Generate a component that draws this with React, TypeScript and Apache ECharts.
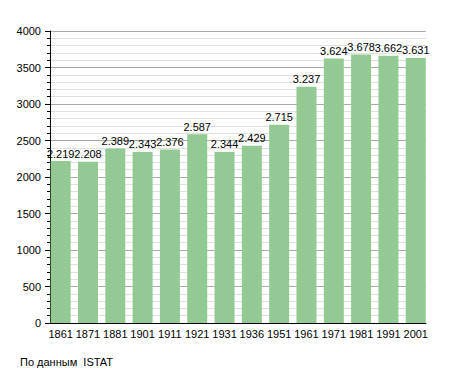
import React, { useEffect, useRef } from "react";
import * as echarts from "echarts";

const years = ["1861", "1871", "1881", "1901", "1911", "1921", "1931", "1936", "1951", "1961", "1971", "1981", "1991", "2001"];
const population = [2219, 2208, 2389, 2343, 2376, 2587, 2344, 2429, 2715, 3237, 3624, 3678, 3662, 3631];
const sourceNote = "По данным  ISTAT";

export default function App() {
  const ref = useRef<HTMLDivElement>(null);
  useEffect(() => {
    const chart = echarts.init(ref.current!, null, { renderer: "svg" });
    const font = "Liberation Sans, Arial, sans-serif";
    chart.setOption({
      animation: false,
      backgroundColor: "#ffffff",
      textStyle: { fontFamily: font },
      grid: [
        { left: 50, right: 29, top: 31, bottom: 50, containLabel: false },
        { left: 47, right: 25.6, top: 31, bottom: 50, containLabel: false },
      ],
      xAxis: [
        {
          type: "category",
          gridIndex: 0,
          data: years,
          axisLine: { show: true, lineStyle: { color: "#000", width: 1 } },
          axisTick: { show: false },
          axisLabel: { show: false },
          splitLine: { show: false },
          z: 5,
        },
        {
          type: "category",
          gridIndex: 1,
          data: years,
          axisLine: { show: false },
          axisTick: { show: false },
          axisLabel: { color: "#000", fontSize: 11, fontFamily: font, margin: 5, interval: 0 },
          splitLine: { show: false },
        },
      ],
      yAxis: [
        {
          type: "value",
          gridIndex: 0,
          min: 0,
          max: 4000,
          interval: 500,
          axisLine: { show: true, lineStyle: { color: "#000", width: 1 } },
          axisTick: { show: true, length: 5, lineStyle: { color: "#000" } },
          minorTick: { show: true, splitNumber: 5, length: 3, lineStyle: { color: "#000" } },
          axisLabel: { color: "#000", fontSize: 11, fontFamily: font, margin: 9, formatter: (v: number) => String(v) },
          splitLine: { show: true, lineStyle: { color: "#aaaaaa", width: 1 } },
          minorSplitLine: { show: true, lineStyle: { color: "#e0e0e0", width: 1 } },
        },
        {
          type: "value",
          gridIndex: 1,
          min: 0,
          max: 4000,
          interval: 500,
          show: false,
          splitLine: { show: false },
        },
      ],
      series: [
        {
          type: "bar",
          xAxisIndex: 1,
          yAxisIndex: 1,
          data: population,
          barWidth: 20,
          itemStyle: { color: "#93c993" },
          label: {
            show: true,
            position: "top",
            distance: 2,
            color: "#000",
            fontSize: 11,
            fontFamily: font,
            formatter: (p: any) => (p.value / 1000).toFixed(3),
          },
        },
      ],
      graphic: [
        {
          type: "text",
          left: 20,
          top: 356,
          style: { text: sourceNote, fill: "#000", fontSize: 11, fontFamily: font },
        },
      ],
    });
    return () => chart.dispose();
  }, []);
  return <div ref={ref} style={{ position: "fixed", left: 0, top: 0, width: 455, height: 373 }} />;
}
